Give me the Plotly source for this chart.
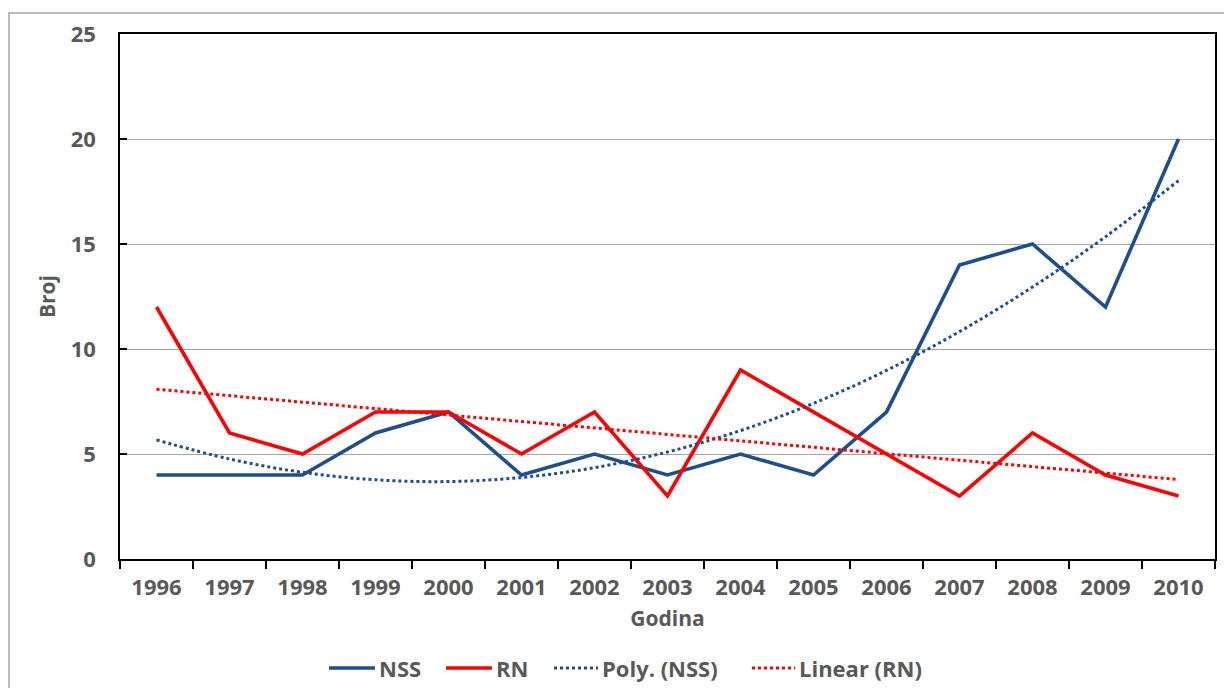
import numpy as np
import plotly.graph_objects as go

years = ["1996", "1997", "1998", "1999", "2000", "2001", "2002", "2003",
         "2004", "2005", "2006", "2007", "2008", "2009", "2010"]
nss = [4, 4, 4, 6, 7, 4, 5, 4, 5, 4, 7, 14, 15, 12, 20]
rn = [12, 6, 5, 7, 7, 5, 7, 3, 9, 7, 5, 3, 6, 4, 3]
y_ticks = [0, 5, 10, 15, 20, 25]

# trendlines fitted to the series: 2nd order polynomial for NSS, linear for RN
idx = np.arange(len(years))
nss_poly = np.polyval(np.polyfit(idx, nss, 2), idx)
rn_lin = np.polyval(np.polyfit(idx, rn, 1), idx)

BLUE = "#1F4E8C"
RED = "#FF0000"
TEXT = "#595959"
FONT = "Open Sans"

series = [
    dict(name="NSS", y=nss, color=BLUE, width=3.6, dash="solid", shape="linear"),
    dict(name="RN", y=rn, color=RED, width=3.6, dash="solid", shape="linear"),
    dict(name="Poly. (NSS)", y=nss_poly, color=BLUE, width=3, dash="dot", shape="spline"),
    dict(name="Linear (RN)", y=rn_lin, color=RED, width=3, dash="dot", shape="linear"),
]

fig = go.Figure()
for s in series:
    fig.add_trace(go.Scatter(x=years, y=s["y"], mode="lines", name=s["name"],
                             showlegend=False,
                             line=dict(color=s["color"], width=s["width"],
                                       dash=s["dash"], shape=s["shape"])))

W, H = 1224, 688
L, R, T, B = 120, 9, 34, 129
pw, ph = W - L - R, H - T - B

def px_x(v):
    return (v - L) / pw

def px_y(v):
    return (H - B - v) / ph

# legend row drawn below the axis: sample line then label for each series
legend_y = px_y(668)
legend_slots = [(329, 375), (446, 492), (554, 598), (752, 795)]
shapes = [dict(type="rect", xref="paper", yref="paper",
               x0=px_x(9), x1=px_x(1240), y0=px_y(13), y1=px_y(720),
               line=dict(color="#A6A6A6", width=1.5), layer="below")]
annotations = []
for s, (x0, x1) in zip(series, legend_slots):
    shapes.append(dict(type="line", xref="paper", yref="paper",
                       x0=px_x(x0), x1=px_x(x1), y0=legend_y, y1=legend_y,
                       line=dict(color=s["color"], width=s["width"], dash=s["dash"])))
    annotations.append(dict(xref="paper", yref="paper", x=px_x(x1 + 2), y=legend_y,
                            xanchor="left", yanchor="middle", showarrow=False,
                            text=s["name"],
                            font=dict(family=FONT, size=22, color=TEXT, weight="bold")))

fig.update_layout(
    width=W, height=H,
    margin=dict(l=L, r=R, t=T, b=B, autoexpand=False),
    paper_bgcolor="white", plot_bgcolor="white",
    font=dict(family=FONT, color=TEXT, size=22),
    showlegend=False,
    xaxis=dict(type="category", range=[-0.5, len(years) - 0.5], automargin=False,
               tickson="boundaries", ticks="outside", ticklen=8, tickwidth=1.5,
               tickcolor="black", showline=True, linecolor="black", linewidth=1.5,
               mirror=True, showgrid=False, ticklabelstandoff=8,
               tickfont=dict(family=FONT, size=22, color=TEXT, weight="bold"),
               title=dict(text="Godina", standoff=11,
                          font=dict(family=FONT, size=21, color=TEXT, weight="bold"))),
    yaxis=dict(range=[0, 25], tickvals=y_ticks, ticks="inside", ticklen=7,
               tickwidth=1.5, tickcolor="black", automargin=False,
               showline=True, linecolor="black", linewidth=1.5, mirror=True,
               showgrid=True, gridcolor="#A6A6A6", gridwidth=1.2,
               zeroline=False, ticklabelstandoff=18,
               tickfont=dict(family=FONT, size=22, color=TEXT, weight="bold"),
               title=dict(text="Broj", standoff=9,
                          font=dict(family=FONT, size=21, color=TEXT, weight="bold"))),
    shapes=shapes,
    annotations=annotations,
)

fig.write_html("out.html")
